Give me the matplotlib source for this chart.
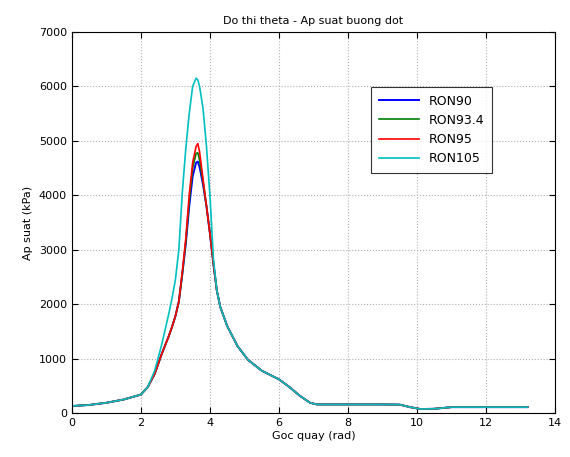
import matplotlib
matplotlib.use("Agg")
import matplotlib.pyplot as plt

# goc quay (rad)
theta = [0, 0.5, 1.0, 1.5, 2.0, 2.2, 2.4, 2.6, 2.8, 2.9, 3.0, 3.1, 3.2, 3.3, 3.4, 3.5,
         3.6, 3.65, 3.7, 3.8, 3.9, 4.0, 4.1, 4.2, 4.3, 4.5, 4.8, 5.1, 5.5, 6.0, 6.3,
         6.6, 6.9, 7.1, 8.0, 9.0, 9.5, 9.8, 10.1, 10.5, 11.0, 12.0, 13.2]

# ap suat (kPa)
ron90 = [130, 150, 190, 250, 340, 480, 720, 1080, 1400, 1580, 1780, 2050, 2550, 3100,
         3800, 4350, 4600, 4620, 4520, 4200, 3800, 3300, 2750, 2250, 1950, 1600, 1230,
         980, 780, 620, 480, 320, 190, 160, 160, 160, 155, 110, 75, 80, 110, 110, 110]
ron934 = [130, 150, 190, 250, 340, 480, 720, 1080, 1400, 1580, 1780, 2050, 2550, 3150,
          3900, 4500, 4770, 4780, 4650, 4250, 3800, 3300, 2750, 2250, 1950, 1600, 1230,
          980, 780, 620, 480, 320, 190, 160, 160, 160, 155, 110, 75, 80, 110, 110, 110]
ron95 = [130, 150, 190, 250, 340, 480, 720, 1080, 1400, 1580, 1780, 2050, 2600, 3200,
         4000, 4600, 4900, 4950, 4800, 4300, 3800, 3300, 2750, 2250, 1950, 1600, 1230,
         980, 780, 620, 480, 320, 190, 160, 160, 160, 155, 110, 75, 80, 110, 110, 110]
ron105 = [130, 150, 190, 250, 340, 480, 780, 1250, 1800, 2100, 2450, 3000, 4050, 4850,
          5500, 6000, 6150, 6120, 6000, 5600, 4900, 4000, 2850, 2250, 1950, 1600, 1230,
          980, 780, 620, 480, 320, 190, 160, 160, 160, 155, 110, 75, 80, 110, 110, 110]

plt.rcParams["font.family"] = "DejaVu Sans"
plt.rcParams["font.size"] = 8

fig = plt.figure(figsize=(5.7, 4.57), dpi=100)
ax = fig.add_axes([0.126, 0.096, 0.848, 0.834])

ax.plot(theta, ron90, color="#0000ff", lw=1.4, label="RON90")
ax.plot(theta, ron934, color="#008000", lw=1.2, label="RON93.4")
ax.plot(theta, ron95, color="#ff0000", lw=1.2, label="RON95")
ax.plot(theta, ron105, color="#00bfbf", lw=1.2, label="RON105")

ax.set_xlim(0, 14)
ax.set_ylim(0, 7000)
ax.set_xticks(range(0, 15, 2))
ax.set_yticks(range(0, 7001, 1000))
ax.tick_params(direction="in", top=True, right=True, length=4)
ax.grid(True, linestyle=":", color="#b0b0b0", linewidth=0.8)

ax.set_title("Do thi theta - Ap suat buong dot", fontsize=8)
ax.set_xlabel("Goc quay (rad)", fontsize=8, labelpad=2)
ax.set_ylabel("Ap suat (kPa)", fontsize=8)

leg = ax.legend(loc="upper left", bbox_to_anchor=(0.607, 0.872), fontsize=9,
                frameon=True, fancybox=False, edgecolor="black",
                handlelength=3.2, borderpad=0.6, labelspacing=0.5)
leg.get_frame().set_linewidth(0.8)

fig.savefig("out.png", dpi=100)
